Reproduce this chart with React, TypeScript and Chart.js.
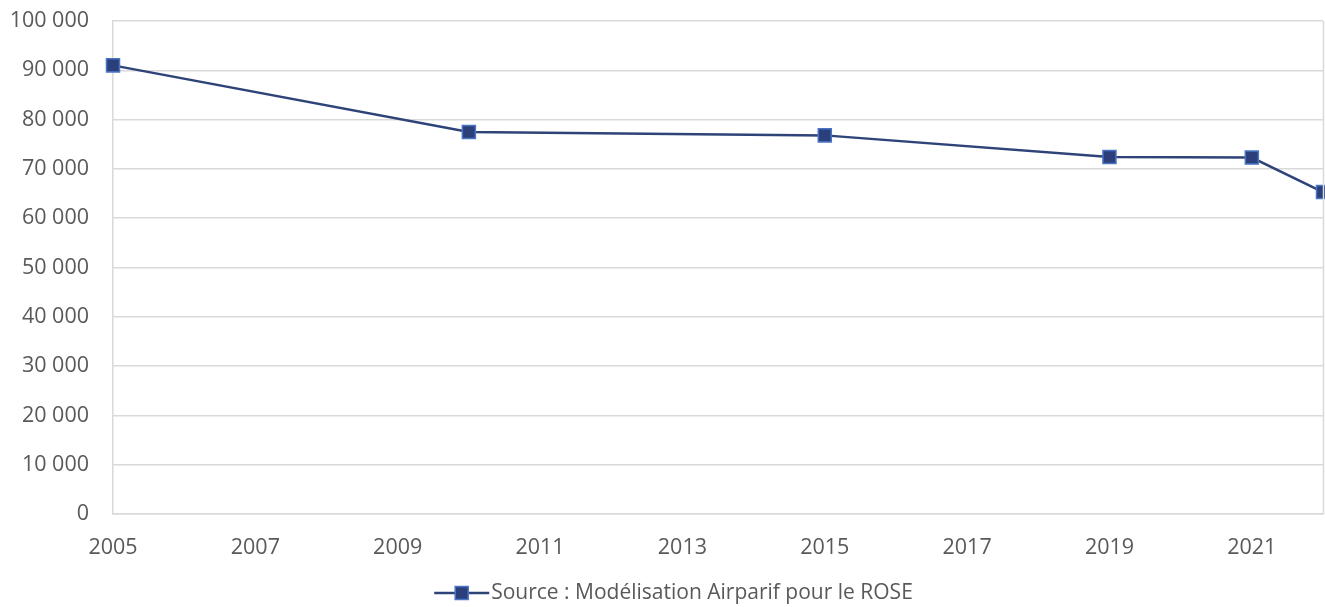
import React, { useEffect, useRef } from "react";
import { Chart, registerables } from "chart.js";

Chart.register(...registerables);

const years = [2005, 2010, 2015, 2019, 2021, 2022];
const values = [91000, 77500, 76800, 72400, 72300, 65300];
const xTickYears = [2005, 2007, 2009, 2011, 2013, 2015, 2017, 2019, 2021];
const seriesLabel = "Source : Modélisation Airparif pour le ROSE";

const LINE = "#2E4378";
const FILL = "#2B3F7A";
const EDGE = "#4A74C6";
const GRID = "#D9D9D9";
const TEXT = "#595959";
const FONT = "'Open Sans', 'Noto Sans', sans-serif";

function fmt(v: number) {
  return String(v).replace(/\B(?=(\d{3})+(?!\d))/g, " ");
}

const frameAndLegend = {
  id: "frameAndLegend",
  afterDraw(chart: any) {
    const ctx = chart.ctx;
    const a = chart.chartArea;
    ctx.save();
    ctx.strokeStyle = GRID;
    ctx.lineWidth = 1.5;
    ctx.beginPath();
    ctx.moveTo(a.right + 0.5, a.top);
    ctx.lineTo(a.right + 0.5, a.bottom);
    ctx.stroke();

    // legend
    ctx.font = `21px ${FONT}`;
    const label = chart.data.datasets[0].label;
    const tw = ctx.measureText(label).width;
    const sw = 55;
    const gap = 2;
    const total = sw + gap + tw;
    const cx = chart.width / 2 + 11;
    const x0 = cx - total / 2;
    const y = 593;
    ctx.strokeStyle = LINE;
    ctx.lineWidth = 2.5;
    ctx.beginPath();
    ctx.moveTo(x0, y);
    ctx.lineTo(x0 + sw, y);
    ctx.stroke();
    ctx.fillStyle = FILL;
    ctx.strokeStyle = EDGE;
    ctx.lineWidth = 1.5;
    ctx.fillRect(x0 + sw / 2 - 6.5, y - 6.5, 13, 13);
    ctx.strokeRect(x0 + sw / 2 - 6.5, y - 6.5, 13, 13);
    ctx.fillStyle = TEXT;
    ctx.textBaseline = "middle";
    ctx.textAlign = "left";
    ctx.fillText(label, x0 + sw + gap, y);
    ctx.restore();
  },
};

export default function App() {
  const ref = useRef<HTMLCanvasElement>(null);
  useEffect(() => {
    document.body.style.margin = "0";
    const chart = new Chart(ref.current!, {
      type: "line",
      data: {
        datasets: [
          {
            label: seriesLabel,
            data: years.map((y, i) => ({ x: y, y: values[i] })),
            borderColor: LINE,
            borderWidth: 2.5,
            pointStyle: "rect",
            pointRadius: 9.2,
            pointBackgroundColor: FILL,
            pointBorderColor: EDGE,
            pointBorderWidth: 1.5,
            clip: false,
            tension: 0,
          },
        ],
      },
      options: {
        animation: false,
        responsive: false,
        layout: { padding: { top: 21, right: 2, left: 0, bottom: 0 }, autoPadding: false },
        plugins: { legend: { display: false }, tooltip: { enabled: false } },
        scales: {
          x: {
            type: "linear",
            min: 2005,
            max: 2022,
            afterBuildTicks: (s: any) => {
              s.ticks = xTickYears.map((v) => ({ value: v }));
            },
            afterFit: (s: any) => {
              s.height = 93;
              s.paddingLeft = 0;
              s.paddingRight = 0;
              s.paddingTop = 0;
              s.paddingBottom = 0;
            },
            grid: { display: false, drawTicks: false },
            border: { display: true, color: GRID, width: 1.5 },
            ticks: {
              color: TEXT,
              font: { family: FONT, size: 21.5 },
              padding: 21,
              maxRotation: 0,
              autoSkip: false,
              callback: (v: any) => String(v),
            },
          },
          y: {
            min: 0,
            max: 100000,
            afterFit: (s: any) => {
              s.width = 113;
              s.paddingTop = 0;
              s.paddingBottom = 0;
              s.paddingLeft = 0;
              s.paddingRight = 0;
            },
            grid: { color: GRID, lineWidth: 1.5, drawTicks: false },
            border: { display: true, color: GRID, width: 1.5 },
            ticks: {
              stepSize: 10000,
              color: TEXT,
              font: { family: FONT, size: 21.5 },
              padding: 24,
              callback: (v: any) => fmt(Number(v)),
            },
          },
        },
      },
      plugins: [frameAndLegend],
    });
    return () => chart.destroy();
  }, []);
  return (
    <div style={{ position: "relative", width: 1325, height: 607 }}>
      <canvas ref={ref} width={1325} height={607} style={{ display: "block" }} />
    </div>
  );
}
